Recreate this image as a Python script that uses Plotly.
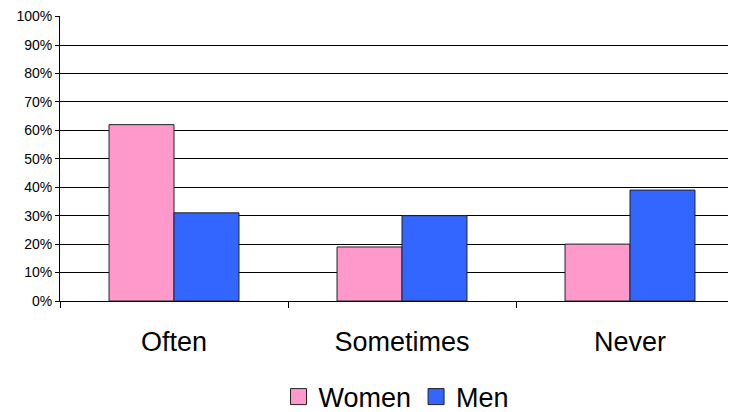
import plotly.graph_objects as go

categories = ["Often", "Sometimes", "Never"]
women = [0.62, 0.19, 0.20]
men = [0.31, 0.30, 0.39]
y_ticks = [i / 10 for i in range(11)]
y_tick_labels = [f"{i*10}%" for i in range(11)]

series = [("Women", women, "#FF99CC"), ("Men", men, "#3366FF")]

fig = go.Figure()
for name, vals, col in series:
    fig.add_trace(go.Bar(name=name, x=categories, y=vals, showlegend=False,
                         marker=dict(color=col, line=dict(color="#222222", width=1))))
for name, vals, col in series:
    fig.add_trace(go.Scatter(name=name, x=[None], y=[None], mode="markers",
                             marker=dict(symbol="square", size=16, color=col,
                                         line=dict(color="#222222", width=1))))

fig.update_layout(
    width=736, height=412,
    margin=dict(l=52, r=0, t=8, b=119, autoexpand=False),
    paper_bgcolor="white", plot_bgcolor="white",
    barmode="group", bargap=0.43, bargroupgap=0,
    font=dict(family="Liberation Sans, Arial", color="black"),
    showlegend=True,
    legend=dict(orientation="h", x=0.492, xanchor="center", y=-0.337, yanchor="middle",
                font=dict(size=27, color="black"), itemwidth=30, traceorder="normal",
                tracegroupgap=0),
)
fig.update_xaxes(
    range=[-0.5, 2.5], showline=True, linecolor="black", linewidth=1,
    ticks="outside", tickson="boundaries", ticklen=6, tickcolor="black",
    tickfont=dict(size=27, color="black"), ticklabelstandoff=17, showgrid=False,
    automargin=False,
)
fig.update_yaxes(
    range=[0, 1.002], tickvals=y_ticks, ticktext=y_tick_labels,
    showline=True, linecolor="black", linewidth=1,
    showgrid=True, gridcolor="black", gridwidth=1,
    ticks="outside", ticklen=4, tickcolor="black",
    tickfont=dict(size=14, color="black"), zeroline=False, automargin=False,
)
fig.write_html("out.html")
